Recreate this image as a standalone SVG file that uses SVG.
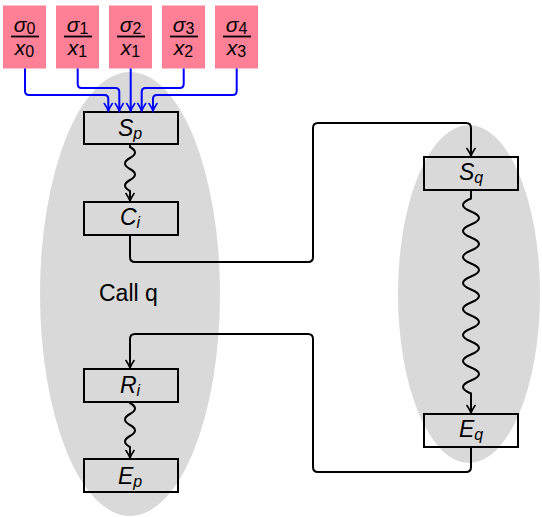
<svg xmlns="http://www.w3.org/2000/svg" width="542" height="517" viewBox="0 0 542 517">
<style>
.bg{fill:#d9d9d9}
.pk{fill:#fe8096}
.box{fill:none;stroke:#000;stroke-width:2}
.lbl{font-family:"Liberation Sans",Arial,sans-serif;font-size:23px;font-style:italic;text-anchor:middle;fill:#000}
.sub{font-size:16px}
.fr{font-family:"Liberation Sans",Arial,sans-serif;font-size:21px;text-anchor:middle;fill:#000}
.it{font-style:italic}
.s2{font-size:16px}
.bar{stroke:#000;stroke-width:1.8}
.blk{fill:none;stroke:#000;stroke-width:2}
.blu{fill:none;stroke:#0000ff;stroke-width:2}
.txt{font-family:"Liberation Sans",Arial,sans-serif;font-size:23px;fill:#000}
</style>
<defs>
<marker id="ak" viewBox="-10 -6 12 12" refX="0" refY="0" markerWidth="12" markerHeight="12" markerUnits="userSpaceOnUse" orient="auto">
<path d="M -7.5 -4 Q -3 -1 0 0 Q -3 1 -7.5 4" fill="none" stroke="#000" stroke-width="1.6" stroke-linecap="round"/>
</marker>
<marker id="ab" viewBox="-10 -6 12 12" refX="0" refY="0" markerWidth="12" markerHeight="12" markerUnits="userSpaceOnUse" orient="auto">
<path d="M -7.5 -4 Q -3 -1 0 0 Q -3 1 -7.5 4" fill="none" stroke="#0000ff" stroke-width="1.6" stroke-linecap="round"/>
</marker>
</defs>
<g id="regions">
<ellipse class="bg" cx="130" cy="294" rx="90" ry="222"/>
<ellipse class="bg" cx="469" cy="294" rx="71" ry="169"/>
<text class="txt" x="99" y="301">Call q</text>
</g>
<g id="inputs">
<g id="in0"><rect class="pk" x="3" y="5.5" width="43" height="63"/>
<text class="fr" x="24.5" y="32"><tspan class="it">σ</tspan><tspan class="s2" dy="2">0</tspan></text>
<line class="bar" x1="11" y1="36.5" x2="39" y2="36.5"/>
<text class="fr" x="24.5" y="55"><tspan class="it">x</tspan><tspan class="s2" dy="2">0</tspan></text></g>
<g id="in1"><rect class="pk" x="56" y="5.5" width="43" height="63"/>
<text class="fr" x="77.5" y="32"><tspan class="it">σ</tspan><tspan class="s2" dy="2">1</tspan></text>
<line class="bar" x1="64" y1="36.5" x2="92" y2="36.5"/>
<text class="fr" x="77.5" y="55"><tspan class="it">x</tspan><tspan class="s2" dy="2">1</tspan></text></g>
<g id="in2"><rect class="pk" x="109" y="5.5" width="43" height="63"/>
<text class="fr" x="130.5" y="32"><tspan class="it">σ</tspan><tspan class="s2" dy="2">2</tspan></text>
<line class="bar" x1="117" y1="36.5" x2="145" y2="36.5"/>
<text class="fr" x="130.5" y="55"><tspan class="it">x</tspan><tspan class="s2" dy="2">1</tspan></text></g>
<g id="in3"><rect class="pk" x="162" y="5.5" width="43" height="63"/>
<text class="fr" x="183.5" y="32"><tspan class="it">σ</tspan><tspan class="s2" dy="2">3</tspan></text>
<line class="bar" x1="170" y1="36.5" x2="198" y2="36.5"/>
<text class="fr" x="183.5" y="55"><tspan class="it">x</tspan><tspan class="s2" dy="2">2</tspan></text></g>
<g id="in4"><rect class="pk" x="215" y="5.5" width="43" height="63"/>
<text class="fr" x="236.5" y="32"><tspan class="it">σ</tspan><tspan class="s2" dy="2">4</tspan></text>
<line class="bar" x1="223" y1="36.5" x2="251" y2="36.5"/>
<text class="fr" x="236.5" y="55"><tspan class="it">x</tspan><tspan class="s2" dy="2">3</tspan></text></g>
</g>
<g id="Sp"><rect class="box" x="84" y="112" width="94" height="32"/>
<text class="lbl" x="130" y="136">S<tspan class="sub" dy="3">p</tspan></text></g>
<g id="Ci"><rect class="box" x="84" y="202" width="94" height="33"/>
<text class="lbl" x="130" y="225">C<tspan class="sub" dy="3">i</tspan></text></g>
<g id="Ri"><rect class="box" x="84" y="369" width="94" height="33"/>
<text class="lbl" x="130" y="393">R<tspan class="sub" dy="3">i</tspan></text></g>
<g id="Ep"><rect class="box" x="84" y="459" width="94" height="33"/>
<text class="lbl" x="130" y="484">E<tspan class="sub" dy="3">p</tspan></text></g>
<g id="Sq"><rect class="box" x="424" y="157" width="94" height="33"/>
<text class="lbl" x="471" y="180">S<tspan class="sub" dy="3">q</tspan></text></g>
<g id="Eq"><rect class="box" x="424" y="414" width="94" height="33"/>
<text class="lbl" x="471" y="437">E<tspan class="sub" dy="3">q</tspan></text></g>
<g id="connectors">
<path class="blu" marker-end="url(#ab)" d="M25 68.5 V91 Q25 95 29 95 H104.3 Q108.3 95 108.3 99 V111"/>
<path class="blu" marker-end="url(#ab)" d="M77.7 68.5 V84 Q77.7 88 81.7 88 H115.3 Q119.3 88 119.3 92 V111"/>
<path class="blu" marker-end="url(#ab)" d="M130.7 68.5 V111"/>
<path class="blu" marker-end="url(#ab)" d="M183.7 68.5 V84 Q183.7 88 179.7 88 H145.7 Q141.7 88 141.7 92 V111"/>
<path class="blu" marker-end="url(#ab)" d="M236.7 68.5 V91 Q236.7 95 232.7 95 H157 Q153 95 153 99 V111"/>
<path class="blk" marker-end="url(#ak)" d="M130 144 V147 q 10 5.5 0 11 t 0 11 t 0 11 t 0 11 V201"/>
<path class="blk" marker-end="url(#ak)" d="M130 402 V403 q 10 5.5 0 11 t 0 11 t 0 11 t 0 11 V458"/>
<path class="blk" marker-end="url(#ak)" d="M471 190 V198.5 q -16 6.5 0 13 t 0 13 t 0 13 t 0 13 t 0 13 t 0 13 t 0 13 t 0 13 t 0 13 t 0 13 t 0 13 t 0 13 t 0 13 t 0 13 t 0 13 V413"/>
<path class="blk" marker-end="url(#ak)" d="M130 235 V257 Q130 262 135 262 H308 Q313 262 313 257 V128 Q313 123 318 123 H466 Q471 123 471 128 V156"/>
<path class="blk" marker-end="url(#ak)" d="M471 447 V467 Q471 472 466 472 H318 Q313 472 313 467 V339 Q313 334 308 334 H135 Q130 334 130 339 V368"/>
</g>
</svg>
